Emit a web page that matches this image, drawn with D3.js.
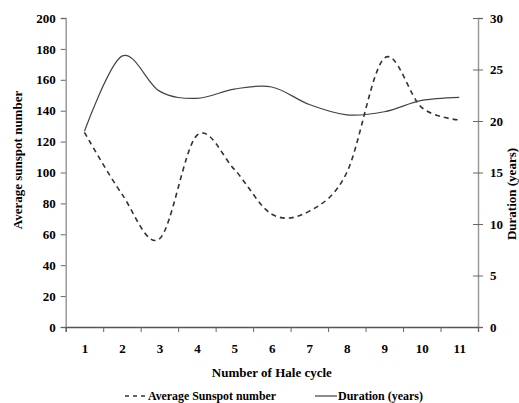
<!DOCTYPE html>
<html>
<head>
<meta charset="utf-8">
<script src="https://cdn.jsdelivr.net/npm/d3@7"></script>
<style>
  html, body { margin: 0; padding: 0; background: #fff; }
  svg { display: block; }
  text { font-family: "Liberation Serif", "Times New Roman", serif; font-weight: bold; fill: #000; }
</style>
</head>
<body>
<svg id="chart" width="519" height="403"></svg>
<script>
// ---- data ----
const cycles = [1, 2, 3, 4, 5, 6, 7, 8, 9, 10, 11];
const sunspot = [126, 86, 57, 124, 102, 73, 75, 100, 174, 142, 134];
const duration = [19.0, 26.3, 22.9, 22.2, 23.1, 23.3, 21.6, 20.6, 20.9, 22.0, 22.3];
const leftTicks = [0, 20, 40, 60, 80, 100, 120, 140, 160, 180, 200];
const rightTicks = [0, 5, 10, 15, 20, 25, 30];
const xTitle = "Number of Hale cycle";
const leftTitle = "Average sunspot number";
const rightTitle = "Duration (years)";
const legendLabels = ["Average Sunspot number", "Duration (years)"];

// ---- layout ----
const svg = d3.select("#chart");
const L = 65.7, R = 478, T = 18, B = 327;

const x = d3.scaleLinear().domain([0.5, 11.5]).range([L, R]);
const yL = d3.scaleLinear().domain([0, 200]).range([B, T]);
const yR = d3.scaleLinear().domain([0, 30]).range([B, T]);

// left axis
const gL = svg.append("g").attr("transform", `translate(${L},0)`)
  .call(d3.axisLeft(yL).tickValues(leftTicks).tickSize(5).tickPadding(5));
gL.select(".domain").attr("stroke", "#9a9a9a").attr("stroke-width", 1.5);
gL.selectAll(".tick line").attr("stroke", "#666");
gL.selectAll(".tick text").style("font-size", "13px");

// right axis
const gR = svg.append("g").attr("transform", `translate(${R},0)`)
  .call(d3.axisRight(yR).tickValues(rightTicks).tickSize(5).tickPadding(7));
gR.select(".domain").attr("stroke", "#9a9a9a").attr("stroke-width", 1.5);
gR.selectAll(".tick line").attr("stroke", "#666").attr("x1", -5);
gR.selectAll(".tick text").style("font-size", "13px");

// bottom axis: tick marks at category boundaries
const boundaries = d3.range(0.5, 12, 1);
const gB = svg.append("g").attr("transform", `translate(0,${B})`)
  .call(d3.axisBottom(x).tickValues(boundaries).tickSize(5).tickFormat(""));
gB.select(".domain").attr("stroke", "#555").attr("stroke-width", 1.3);
gB.selectAll(".tick line").attr("stroke", "#666");
// labels at category centres
const gB2 = svg.append("g").attr("transform", `translate(0,${B})`)
  .call(d3.axisBottom(x).tickValues(cycles).tickSize(0).tickPadding(17).tickFormat(d3.format("d")));
gB2.select(".domain").remove();
gB2.selectAll(".tick text").style("font-size", "13px");

// axis titles
svg.append("text").attr("x", (L + R) / 2).attr("y", 377)
  .attr("text-anchor", "middle").style("font-size", "13px").text(xTitle);
svg.append("text").attr("transform", `translate(22,160) rotate(-90)`)
  .attr("text-anchor", "middle").style("font-size", "13px").text(leftTitle);
svg.append("text").attr("transform", `translate(516,194) rotate(-90)`)
  .attr("text-anchor", "middle").style("font-size", "13px").text(rightTitle);

// lines
const curve = d3.curveCatmullRom.alpha(0);
const lineS = d3.line().x((d, i) => x(cycles[i])).y(d => yL(d)).curve(curve);
const lineD = d3.line().x((d, i) => x(cycles[i])).y(d => yR(d)).curve(curve);

svg.append("path").datum(duration).attr("d", lineD)
  .attr("fill", "none").attr("stroke", "#444").attr("stroke-width", 1.2);
svg.append("path").datum(sunspot).attr("d", lineS)
  .attr("fill", "none").attr("stroke", "#333").attr("stroke-width", 1.6)
  .attr("stroke-dasharray", "5,4");

// legend
const ly = 396;
svg.append("line").attr("x1", 125).attr("x2", 147).attr("y1", ly).attr("y2", ly)
  .attr("stroke", "#333").attr("stroke-width", 1.5).attr("stroke-dasharray", "4,4");
svg.append("text").attr("x", 148).attr("y", ly + 4).style("font-size", "12px")
  .attr("textLength", 128).attr("lengthAdjust", "spacingAndGlyphs").text(legendLabels[0]);
svg.append("line").attr("x1", 315).attr("x2", 337).attr("y1", ly).attr("y2", ly)
  .attr("stroke", "#666").attr("stroke-width", 1.5);
svg.append("text").attr("x", 338).attr("y", ly + 4).style("font-size", "12px")
  .attr("textLength", 85).attr("lengthAdjust", "spacingAndGlyphs").text(legendLabels[1]);
</script>
</body>
</html>
